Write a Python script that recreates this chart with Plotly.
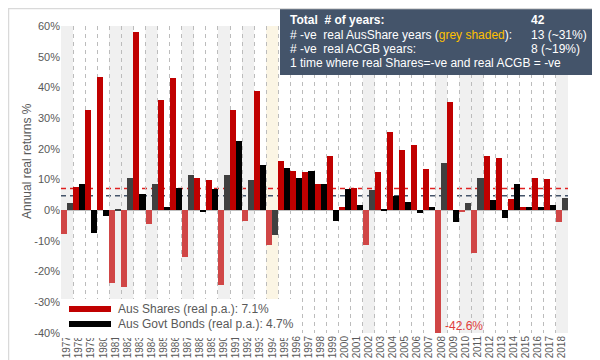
import plotly.graph_objects as go

years = list(range(1977, 2019))
shares = [-7.7, 7.4, 32.7, 43.5, -23.6, -24.9, 58.2, -4.5, 35.9, 43.0,
          -15.1, 10.4, 9.7, -24.5, 32.7, -3.4, 38.7, -11.3, 15.9, 12.9,
          12.6, 8.6, 17.5, 0.9, 7.1, -11.3, 12.6, 25.6, 19.6, 21.3,
          13.4, -42.6, 35.4, -0.5, -13.8, 17.5, 16.9, 3.6, 1.2, 10.4,
          10.1, -3.9]
bonds = [2.5, 8.5, -7.3, -1.9, 0.2, 10.4, 5.3, 8.5, 1.2, 7.2,
         11.5, -0.5, 6.9, 11.5, 22.4, 9.7, 14.6, -8.2, 13.9, 10.6,
         12.9, 8.6, -3.5, 6.9, 1.6, 6.6, 0.2, 4.7, 2.8, -0.8,
         1.2, 15.5, -3.9, 2.5, 10.4, 3.2, -2.4, 8.6, 0.9, 1.2,
         1.7, 4.1]
share_mean = 7.1
bond_mean = 4.7
tick_labels = [str(y) for y in years]
y_ticks = [60, 50, 40, 30, 20, 10, 0, -10, -20, -30, -40]
legend_names = ["Aus Shares (real p.a.): 7.1%", "Aus Govt Bonds (real p.a.): 4.7%"]
legend_colors = ["#c00000", "#000000"]

W, H = 600, 360
L, R, T, B = 53, 40, 18, 35
PW, PH = W - L - R, H - T - B


def px(x):
    return (x - L) / PW


def py(y):
    return (H - B - y) / PH


neg_share = [s < 0 for s in shares]
share_colors = ["#d04646" if n else "#c00000" for n in neg_share]
bond_colors = ["#404040" if n else "#000000" for n in neg_share]

fig = go.Figure()

shapes = []
for y, s, b in zip(years, shares, bonds):
    if s < 0:
        col = "#fbf5e4" if b < 0 else "#f0f0f0"
        shapes.append(dict(type="rect", xref="x", yref="paper", x0=y - 0.5, x1=y + 0.5,
                           y0=0, y1=1, fillcolor=col, line=dict(width=0), layer="below"))
shapes.append(dict(type="line", xref="paper", yref="y", x0=0, x1=1, y0=share_mean, y1=share_mean,
                   line=dict(color="#e02020", width=1.5, dash="5px,4px"), layer="below"))
shapes.append(dict(type="line", xref="paper", yref="y", x0=0, x1=1, y0=bond_mean, y1=bond_mean,
                   line=dict(color="#44546a", width=1.5, dash="5px,4px"), layer="below"))
# info box
shapes.append(dict(type="rect", xref="paper", yref="paper", x0=px(272), x1=px(601),
                   y0=py(67), y1=py(-1), fillcolor="#44546a", line=dict(width=0), layer="above"))
# legend box
shapes.append(dict(type="rect", xref="paper", yref="paper", x0=px(52), x1=px(283),
                   y0=py(330), y1=py(291), fillcolor="white", line=dict(width=0), layer="above"))
for i, c in enumerate(legend_colors):
    yy = 301 + 15 * i
    shapes.append(dict(type="rect", xref="paper", yref="paper", x0=px(61), x1=px(103),
                       y0=py(yy + 3), y1=py(yy - 3), fillcolor=c, line=dict(width=0), layer="above"))
# outer frame
shapes.append(dict(type="rect", xref="paper", yref="paper", x0=px(0.5), x1=px(599.5),
                   y0=py(358.5), y1=py(0.5), line=dict(color="#d9d9d9", width=1.5),
                   fillcolor="rgba(0,0,0,0)", layer="above"))

fig.add_trace(go.Bar(x=years, y=shares, marker=dict(color=share_colors, line=dict(width=0)),
                     showlegend=False, name="Aus Shares"))
fig.add_trace(go.Bar(x=years, y=bonds, marker=dict(color=bond_colors, line=dict(width=0)),
                     showlegend=False, name="Aus Govt Bonds"))

font_fam = "Liberation Sans, Arial, sans-serif"
txt = "#595959"
annotations = []
# y-axis title
annotations.append(dict(text="Annual real returns %", xref="paper", yref="paper", x=px(10), y=py(153),
                        textangle=-90, showarrow=False, font=dict(size=12, color=txt)))
# -42.6% label
annotations.append(dict(text="-42.6%", xref="x", yref="y", x=2008, y=-37.6, xanchor="left",
                        xshift=2, showarrow=False, font=dict(size=12, color="#e03c3c")))
# legend text
for i, name in enumerate(legend_names):
    annotations.append(dict(text=name, xref="paper", yref="paper", x=px(108), y=py(301 + 15 * i),
                            xanchor="left", yanchor="middle", showarrow=False,
                            font=dict(size=12, color=txt)))
# info box text
box_lines = [
    ("<b>Total  # of years:</b>", "<b>42</b>", 12),
    ("# -ve  real AusShare years (<span style='color:#ffc000'>grey shaded</span>):", "13 (~31%)", 26.5),
    ("# -ve  real ACGB years:", "8 (~19%)", 41),
    ("1 time where real Shares=-ve and real ACGB = -ve", "", 55),
]
for left, right, yy in box_lines:
    annotations.append(dict(text=left, xref="paper", yref="paper", x=px(280), y=py(yy),
                            xanchor="left", yanchor="middle", showarrow=False,
                            font=dict(size=12, color="white")))
    if right:
        annotations.append(dict(text=right, xref="paper", yref="paper", x=px(521), y=py(yy),
                                xanchor="left", yanchor="middle", showarrow=False,
                                font=dict(size=12, color="white")))

fig.update_layout(
    width=W, height=H,
    margin=dict(l=L, r=R, t=T, b=B, autoexpand=False),
    paper_bgcolor="white", plot_bgcolor="white",
    barmode="group", bargap=0, bargroupgap=0,
    font=dict(family=font_fam, color=txt),
    shapes=shapes, annotations=annotations,
    showlegend=False,
    xaxis=dict(range=[1976.5, 2018.5], tickmode="array", tickvals=years, ticktext=tick_labels,
               tickangle=-90, tickfont=dict(size=10, color=txt), showgrid=False, zeroline=False,
               showline=False, ticks="", automargin=False,
               minor=dict(tick0=1976.5, dtick=1, showgrid=True, gridcolor="#bcbcbc",
                          griddash="4px,4px", gridwidth=1)),
    yaxis=dict(range=[-40, 60], tickmode="array", tickvals=y_ticks,
               ticktext=[f"{v}%" for v in y_ticks], tickfont=dict(size=11, color=txt),
               showgrid=False, zeroline=True, zerolinecolor="#bfbfbf", zerolinewidth=1,
               showline=False, ticks="", automargin=False),
)

fig.write_html("out.html")
